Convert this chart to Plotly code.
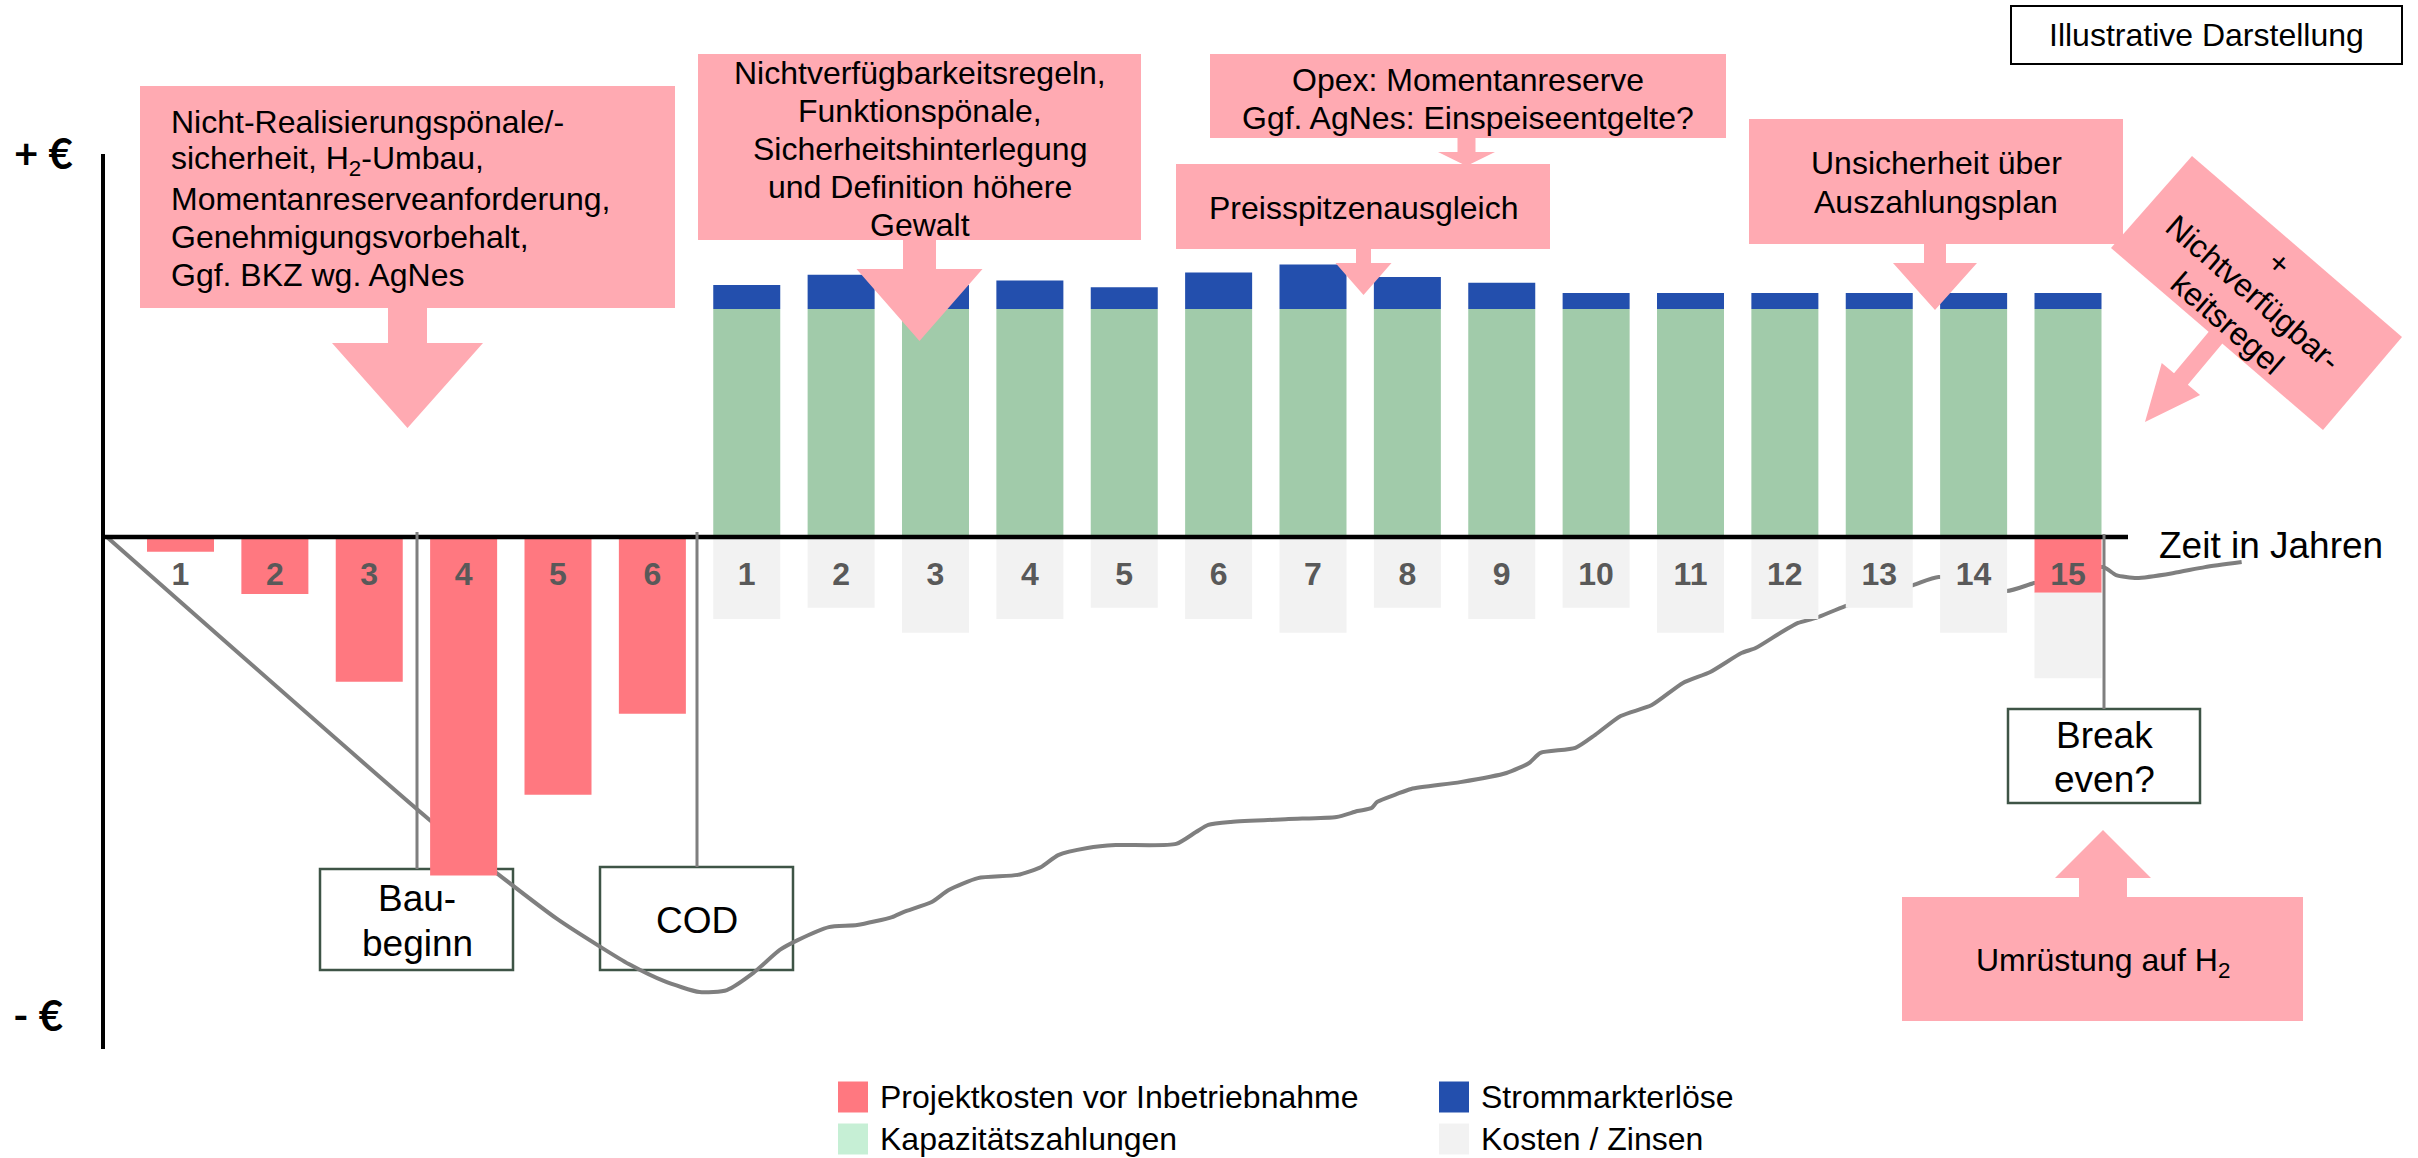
import math
import plotly.graph_objects as go

# ---------------- data ----------------
build_labels = ["1", "2", "3", "4", "5", "6"]
op_labels = ["1", "2", "3", "4", "5", "6", "7", "8", "9", "10", "11", "12", "13", "14", "15"]

project_costs = [-0.65, -2.5, -6.35, -14.85, -11.3, -7.75]     # Projektkosten vor Inbetriebnahme
h2_conversion_cost = -2.45                                      # Umrüstung auf H2 (year 15)
capacity_payments = [10, 10, 10, 10, 10, 10, 10, 10, 10, 10, 10, 10, 10, 10, 10]
market_revenues = [1.05, 1.5, 1.05, 1.25, 0.95, 1.6, 1.95, 1.4, 1.15, 0.7, 0.7, 0.7, 0.7, 0.7, 0.7]
costs_interest = [-3.6, -3.1, -4.2, -3.6, -3.1, -3.6, -4.2, -3.1, -3.6, -3.1, -4.2, -3.6, -3.1, -4.2, -3.75]

# cumulative cash-flow curve (x in slot units, y in value units)
cum_x = [-0.78, 2.64, 3.35, 3.99, 4.47, 4.75, 5.12, 5.5, 5.79, 6.07, 6.35, 6.54, 6.87, 7.17,
         7.54, 7.66, 7.96, 8.14, 8.45, 8.87, 9.12, 9.3, 9.61, 9.91, 10.55, 10.76, 10.89, 11.13,
         11.74, 12.25, 12.47, 12.62, 12.68, 12.89, 13.04, 13.56, 14.05, 14.29, 14.41, 14.78,
         14.99, 15.26, 15.59, 15.92, 16.21, 16.54, 16.69, 16.95, 17.14, 17.33, 17.64, 18.36,
         18.63, 19.35, 19.64, 20.37, 20.51, 20.73, 21.12, 21.45, 21.84]
cum_y = [0.0, -12.41, -14.74, -16.75, -18.03, -18.73, -19.47, -19.96, -19.87, -19.12, -18.11,
         -17.68, -17.11, -17.02, -16.67, -16.45, -16.01, -15.48, -14.96, -14.82, -14.47, -13.95,
         -13.64, -13.51, -13.46, -12.94, -12.63, -12.5, -12.37, -12.28, -12.02, -11.89, -11.62,
         -11.27, -11.05, -10.75, -10.35, -9.91, -9.47, -9.25, -8.68, -7.85, -7.37, -6.4, -5.92,
         -5.09, -4.87, -4.21, -3.77, -3.55, -3.03, -2.11, -1.75, -2.37, -2.02, -1.32, -1.67,
         -1.8, -1.58, -1.32, -1.1]

# ---------------- layout helpers ----------------
W, H = 2418, 1158
FONT = "Liberation Sans, Arial, sans-serif"
EURO_FONT = "Lato, Open Sans, sans-serif"
PINK = "#FFAAB2"
RED = "#FF7880"
GREEN = "#A1CBAA"
BLUE = "#234FAD"
GREY = "#F2F2F2"
BOXLINE = "#3E5446"

slots = list(range(len(build_labels) + len(op_labels)))
tick_text = build_labels + op_labels
SLOT0_PX, SLOT_PX = 180.5, 94.375
ZERO_PX, UNIT_PX = 537.0, 22.8
x_range = [(0 - SLOT0_PX) / SLOT_PX, (W - SLOT0_PX) / SLOT_PX]
y_range = [-(H - ZERO_PX) / UNIT_PX, ZERO_PX / UNIT_PX]


def px(x):
    return x / W


def py(y):
    return 1 - y / H


shapes = []
annotations = []


def rect(x0, y0, x1, y1, fill, line_color=None, lw=0, layer="above"):
    shapes.append(dict(type="rect", xref="paper", yref="paper", x0=px(x0), x1=px(x1),
                       y0=py(y1), y1=py(y0), fillcolor=fill, layer=layer,
                       line=dict(width=lw, color=line_color or fill)))


def poly(points, fill, layer="above"):
    path = "M " + " L ".join(f"{px(x):.6f},{py(y):.6f}" for x, y in points) + " Z"
    shapes.append(dict(type="path", xref="paper", yref="paper", path=path,
                       fillcolor=fill, line=dict(width=0), layer=layer))


def line(x0, y0, x1, y1, color, width, layer="above"):
    shapes.append(dict(type="line", xref="paper", yref="paper", x0=px(x0), y0=py(y0),
                       x1=px(x1), y1=py(y1), line=dict(color=color, width=width), layer=layer))


def arrow(sx, sy, tx, ty, shw, hhw, hl, fill=PINK):
    dx, dy = tx - sx, ty - sy
    L = math.hypot(dx, dy)
    ux, uy = dx / L, dy / L
    nx, ny = -uy, ux
    bx, by = tx - ux * hl, ty - uy * hl
    pts = [(sx + nx * shw, sy + ny * shw), (bx + nx * shw, by + ny * shw),
           (bx + nx * hhw, by + ny * hhw), (tx, ty), (bx - nx * hhw, by - ny * hhw),
           (bx - nx * shw, by - ny * shw), (sx - nx * shw, sy - ny * shw)]
    poly(pts, fill)


def txt(x, y, s, size=32, xanchor="center", color="#000000", family=FONT,
        weight="normal", angle=0):
    annotations.append(dict(x=px(x), y=py(y), xref="paper", yref="paper", text=s,
                            showarrow=False, xanchor=xanchor, yanchor="middle",
                            textangle=angle,
                            font=dict(family=family, size=size, color=color, weight=weight)))


# ---------------- axes lines ----------------
line(103, 154, 103, 1049, "#000000", 4)
line(103, ZERO_PX, 2128, ZERO_PX, "#000000", 4.5)
txt(43, 153, "+ €", size=42, family=EURO_FONT, weight="bold")
txt(38, 1015, "- €", size=42, family=EURO_FONT, weight="bold")
txt(2157, 545, "Zeit in Jahren", size=37, xanchor="left")

# ---------------- milestone markers ----------------
line(417, 532, 417, 869, "#7F7F7F", 3)
line(697, 532, 697, 867, "#7F7F7F", 3)
line(2104, 534, 2104, 709, "#7F7F7F", 3)
rect(320, 869, 513, 970, "rgba(255,255,255,0)", BOXLINE, 2.5, layer="below")
rect(600, 867, 793, 970, "rgba(255,255,255,0)", BOXLINE, 2.5, layer="below")
rect(2008, 709, 2200, 803, "rgba(255,255,255,0)", BOXLINE, 2.5, layer="below")
txt(417, 898, "Bau-", size=37)
txt(417, 943, "beginn", size=37)
txt(697, 920, "COD", size=37)
txt(2104, 735, "Break", size=37)
txt(2104, 780, "even?", size=37)

# ---------------- callouts ----------------
rect(140, 86, 675, 308, PINK)
arrow(407.5, 306, 407.5, 428, 19.5, 75.5, 85)
for i, s in enumerate(["Nicht-Realisierungspönale/-", "sicherheit, H<sub>2</sub>-Umbau,",
                       "Momentanreserveanforderung,", "Genehmigungsvorbehalt,",
                       "Ggf. BKZ wg. AgNes"]):
    txt(169, 122 + 38.3 * i, s, xanchor="left")

rect(698, 54, 1141, 240, PINK)
arrow(919.5, 238, 919.5, 341, 16.5, 63, 72)
for i, s in enumerate(["Nichtverfügbarkeitsregeln,", "Funktionspönale,",
                       "Sicherheitshinterlegung", "und Definition höhere", "Gewalt"]):
    txt(920, 73 + 38 * i, s)

rect(1210, 54, 1726, 138, PINK)
arrow(1466.5, 136, 1466.5, 166, 9, 28.5, 14)
txt(1468, 80, "Opex: Momentanreserve")
txt(1468, 118, "Ggf. AgNes: Einspeiseentgelte?")

rect(1176, 164, 1550, 249, PINK)
arrow(1363.5, 247, 1363.5, 295, 7.5, 28, 32)
txt(1364, 208, "Preisspitzenausgleich")

rect(1749, 119, 2123, 244, PINK)
arrow(1935, 242, 1935, 310, 11, 42, 47)
txt(1936, 163, "Unsicherheit über")
txt(1936, 202, "Auszahlungsplan")

arrow(2232, 318, 2145, 422, 9, 25, 56)
poly([(2192, 156), (2402, 337), (2323, 430), (2111, 248)], PINK)
txt(2279, 263, "+", angle=41)
txt(2253, 293, "Nichtverfügbar-", angle=41)
txt(2227, 323, "keitsregel", angle=41)

rect(1902, 897, 2303, 1021, PINK)
arrow(2103, 899, 2103, 830, 24, 48, 48)
txt(2103, 962, "Umrüstung auf H<sub>2</sub>")

rect(2011, 6, 2402, 64, "#FFFFFF", "#000000", 2)
txt(2206, 35, "Illustrative Darstellung")

# ---------------- legend ----------------
legend_items = [("Projektkosten vor Inbetriebnahme", RED, 838, 1097),
                ("Strommarkterlöse", BLUE, 1439, 1097),
                ("Kapazitätszahlungen", "#C6EFD5", 838, 1139),
                ("Kosten / Zinsen", GREY, 1439, 1139)]
for name, col, lx, ly in legend_items:
    rect(lx, ly - 15.5, lx + 30, ly + 15.5, col)
    txt(lx + 40, ly, name, xanchor="left")

# ---------------- traces ----------------
fig = go.Figure()
fig.add_trace(go.Scatter(x=cum_x, y=cum_y, mode="lines", xaxis="x", yaxis="y",
                         line=dict(color="#7F7F7F", width=4, shape="spline", smoothing=0.6),
                         hoverinfo="skip", showlegend=False))
BW = 0.71
fig.add_trace(go.Bar(x=slots[:6] + [slots[-1]], y=project_costs + [h2_conversion_cost],
                     width=BW, marker=dict(color=RED, line=dict(width=0)),
                     xaxis="x2", yaxis="y2", name="Projektkosten vor Inbetriebnahme"))
fig.add_trace(go.Bar(x=slots[6:], y=costs_interest, width=BW,
                     marker=dict(color=GREY, line=dict(width=0)),
                     xaxis="x2", yaxis="y2", name="Kosten / Zinsen"))
fig.add_trace(go.Bar(x=slots[6:], y=capacity_payments, width=BW,
                     marker=dict(color=GREEN, line=dict(width=0)),
                     xaxis="x2", yaxis="y2", name="Kapazitätszahlungen"))
fig.add_trace(go.Bar(x=slots[6:], y=market_revenues, width=BW,
                     marker=dict(color=BLUE, line=dict(width=0)),
                     xaxis="x2", yaxis="y2", name="Strommarkterlöse"))

fig.update_layout(
    width=W, height=H,
    margin=dict(l=0, r=0, t=0, b=0, pad=0),
    paper_bgcolor="#FFFFFF", plot_bgcolor="rgba(0,0,0,0)",
    barmode="relative", showlegend=False,
    xaxis=dict(range=x_range, visible=False, domain=[0, 1], fixedrange=True),
    yaxis=dict(range=y_range, visible=False, domain=[0, 1], fixedrange=True),
    xaxis2=dict(range=x_range, overlaying="x", anchor="free", position=py(ZERO_PX),
                domain=[0, 1], tickmode="array", tickvals=slots, ticktext=tick_text,
                showgrid=False, zeroline=False, showline=False, ticks="",
                ticklabelstandoff=15,
                tickfont=dict(family=FONT, size=32, color="#595959", weight="bold")),
    yaxis2=dict(range=y_range, overlaying="y", anchor="x2", visible=False, domain=[0, 1]),
    shapes=shapes, annotations=annotations,
)

fig.write_html("out.html", config={"displayModeBar": False, "responsive": False},
               post_script="document.body.style.margin='0px';")
